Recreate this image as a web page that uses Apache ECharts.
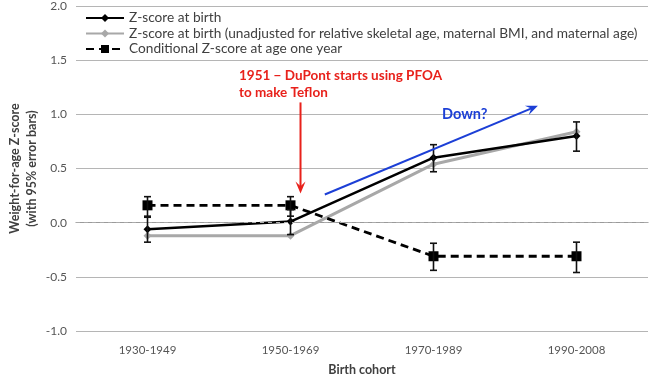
<!DOCTYPE html>
<html><head><meta charset="utf-8">
<script src="https://cdn.jsdelivr.net/npm/echarts@6/dist/echarts.min.js"></script>
<style>html,body{margin:0;padding:0;background:#fff}#c{width:654px;height:377px}</style>
</head><body><div id="c"></div>
<script>
const categories = ['1930-1949', '1950-1969', '1970-1989', '1990-2008'];
const yTicks = [-1.0, -0.5, 0.0, 0.5, 1.0, 1.5, 2.0];
const birthZ = [-0.06, 0.01, 0.60, 0.80];
const birthZLow = [-0.18, -0.11, 0.47, 0.66];
const birthZHigh = [0.05, 0.12, 0.72, 0.93];
const unadjZ = [-0.12, -0.12, 0.54, 0.84];
const condZ = [0.16, 0.16, -0.31, -0.31];
const condZLow = [0.06, 0.06, -0.44, -0.46];
const condZHigh = [0.24, 0.24, -0.19, -0.18];
const seriesNames = [
  'Z-score at birth',
  'Z-score at birth (unadjusted for relative skeletal age, maternal BMI, and maternal age)',
  'Conditional Z-score at age one year'
];
// annotation anchors in data space [category index (fractional), value]
const redArrow = [[1.07, 1.11], [1.07, 0.27]];
const blueArrow = [[1.24, 0.26], [2.73, 1.08]];
const redTextAnchor = [0.64, 1.44];
const blueTextAnchor = [2.06, 1.07];
const redText = ['1951 \u2212 DuPont starts using PFOA', 'to make Teflon'];
const blueText = 'Down?';

const FONT = 'Lato';
const chart = echarts.init(document.getElementById('c'));

function errorSeries(low, high, color) {
  return {
    type: 'custom', silent: true, z: 5,
    data: categories.map((c, i) => [i, low[i], high[i]]),
    renderItem: function (params, api) {
      const x = api.value(0);
      const lo = api.coord([x, api.value(1)]);
      const hi = api.coord([x, api.value(2)]);
      const w = 3.5;
      const st = { stroke: color, lineWidth: 1.6 };
      return { type: 'group', children: [
        { type: 'line', shape: { x1: lo[0], y1: lo[1], x2: hi[0], y2: hi[1] }, style: st },
        { type: 'line', shape: { x1: lo[0] - w, y1: lo[1], x2: lo[0] + w, y2: lo[1] }, style: st },
        { type: 'line', shape: { x1: hi[0] - w, y1: hi[1], x2: hi[0] + w, y2: hi[1] }, style: st }
      ]};
    }
  };
}

chart.setOption({
  animation: false,
  textStyle: { fontFamily: FONT },
  grid: { left: 76, right: 6, top: 6, bottom: 46, containLabel: false, outerBoundsMode: 'none' },
  legend: {
    orient: 'vertical', left: 80, top: 6, itemWidth: 38, itemHeight: 10, itemGap: 1.5,
    textStyle: { fontFamily: FONT, fontSize: 13.7, color: '#404040' },
    data: seriesNames
  },
  xAxis: {
    type: 'category', data: categories, boundaryGap: true,
    axisLine: { lineStyle: { color: '#9a9a9a', width: 1.2 } },
    axisTick: { show: false },
    axisLabel: { color: '#555', fontSize: 11.5, margin: 13, fontFamily: FONT },
    name: 'Birth cohort', nameLocation: 'middle', nameGap: 32, nameMoveOverlap: false,
    nameTextStyle: { fontWeight: 'bold', fontSize: 12.5, color: '#404040', fontFamily: FONT }
  },
  yAxis: {
    type: 'value', min: yTicks[0], max: yTicks[yTicks.length - 1], interval: 0.5,
    axisLine: { show: false }, axisTick: { show: false },
    axisLabel: { color: '#555', fontSize: 12, margin: 9, fontFamily: FONT,
      formatter: v => v.toFixed(1) },
    splitLine: { lineStyle: { color: '#b5b5b5', width: 1.2 } },
    name: 'Weight-for-age Z-score\n(with 95% error bars)', nameLocation: 'middle', nameGap: 36,
    nameMoveOverlap: false,
    nameTextStyle: { fontWeight: 'bold', fontSize: 12.5, color: '#404040', lineHeight: 17, fontFamily: FONT }
  },
  series: [
    {
      name: seriesNames[1], type: 'line', data: unadjZ, z: 3,
      symbol: 'diamond', symbolSize: 8,
      lineStyle: { color: '#a8a8a8', width: 3 }, itemStyle: { color: '#a8a8a8' }
    },
    errorSeries(birthZLow, birthZHigh, '#111'),
    errorSeries(condZLow, condZHigh, '#111'),
    {
      name: seriesNames[0], type: 'line', data: birthZ, z: 4,
      symbol: 'diamond', symbolSize: 8,
      lineStyle: { color: '#000', width: 2.5 }, itemStyle: { color: '#000' }
    },
    {
      name: seriesNames[2], type: 'line', data: condZ, z: 4,
      symbol: 'rect', symbolSize: 10,
      lineStyle: { color: '#000', width: 2.8, type: [8, 5] }, itemStyle: { color: '#000' },
      markLine: {
        silent: true, symbol: 'none', label: { show: false },
        lineStyle: { color: '#aaa', type: [4, 4], width: 1.2 },
        data: [{ yAxis: 0 }]
      }
    }
  ]
});

// category axis rounds to whole indexes, so interpolate between two category centres
function px(p) {
  const a = chart.convertToPixel({ gridIndex: 0 }, [0, p[1]]);
  const b = chart.convertToPixel({ gridIndex: 0 }, [1, p[1]]);
  return [a[0] + (b[0] - a[0]) * p[0], a[1]];
}
const r0 = px(redArrow[0]), r1 = px(redArrow[1]);
const b0 = px(blueArrow[0]), b1 = px(blueArrow[1]);
function arrowHead(from, to, len, halfW, color) {
  const dx = to[0] - from[0], dy = to[1] - from[1];
  const L = Math.hypot(dx, dy), ux = dx / L, uy = dy / L;
  const bx = to[0] - ux * len, by = to[1] - uy * len;
  return { type: 'polygon', shape: { points: [[to[0], to[1]], [bx - uy * halfW, by + ux * halfW], [to[0] - ux * len * 0.6, to[1] - uy * len * 0.6], [bx + uy * halfW, by - ux * halfW]] }, style: { fill: color }, z: 100 };
}
function shorten(from, to, d) {
  const dx = to[0] - from[0], dy = to[1] - from[1];
  const L = Math.hypot(dx, dy);
  return [to[0] - dx / L * d, to[1] - dy / L * d];
}
const r1s = shorten(r0, r1, 5), b1s = shorten(b0, b1, 5);
const redTextPos = px(redTextAnchor);
const blueTextPos = px(blueTextAnchor);
chart.setOption({
  graphic: [
    { type: 'line', shape: { x1: r0[0], y1: r0[1], x2: r1s[0], y2: r1s[1] }, style: { stroke: '#e8211b', lineWidth: 2 }, z: 100 },
    arrowHead(r0, r1, 12, 5, '#e8211b'),
    { type: 'line', shape: { x1: b0[0], y1: b0[1], x2: b1s[0], y2: b1s[1] }, style: { stroke: '#1c3fd6', lineWidth: 2 }, z: 100 },
    arrowHead(b0, b1, 12, 5, '#1c3fd6'),
    { type: 'text', x: redTextPos[0], y: redTextPos[1], z: 100,
      style: { text: redText.join('\n'), fill: '#e8211b', font: 'bold 13.5px ' + FONT, lineHeight: 17 } },
    { type: 'text', x: blueTextPos[0], y: blueTextPos[1], z: 100,
      style: { text: blueText, fill: '#1c3fd6', font: 'bold 14.5px ' + FONT } }
  ]
});
</script>
</body></html>
